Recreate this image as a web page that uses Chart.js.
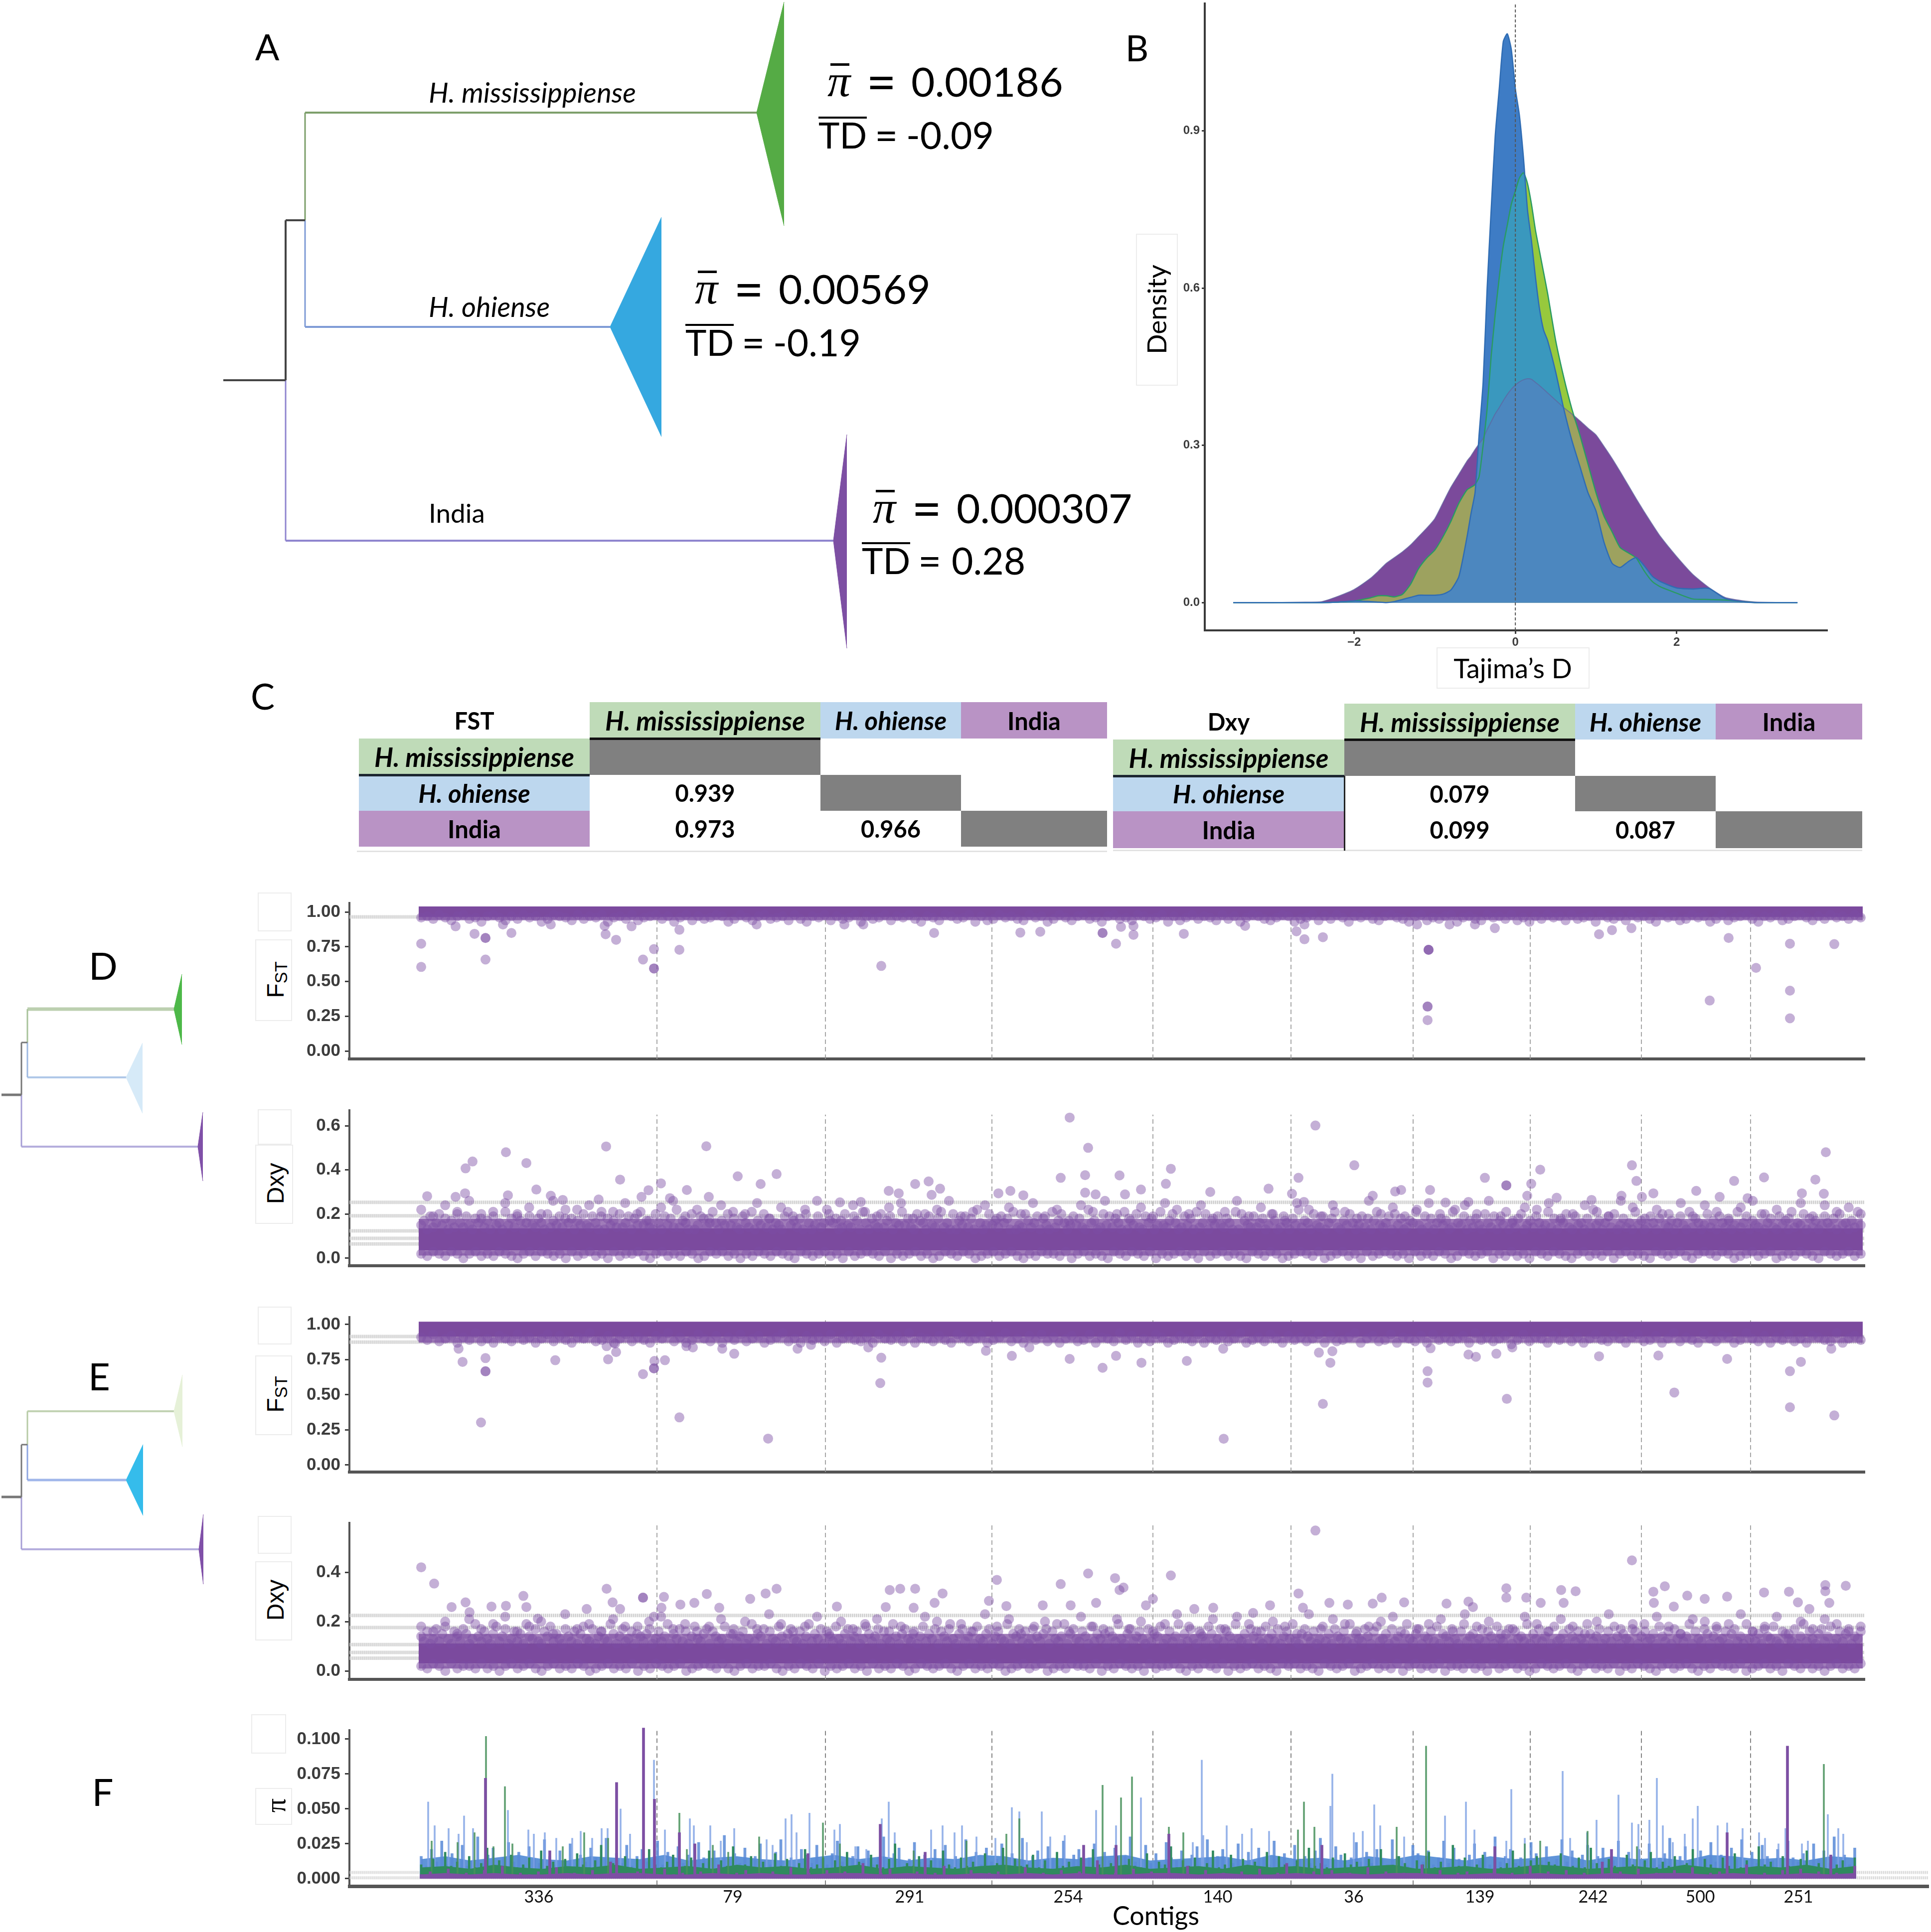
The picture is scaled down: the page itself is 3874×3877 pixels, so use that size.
<!DOCTYPE html>
<html><head><meta charset="utf-8">
<script src="https://cdn.jsdelivr.net/npm/chart.js@4/dist/chart.umd.min.js"></script>
<style>
html,body{margin:0;padding:0;background:#fff}
#page{position:relative;width:3874px;height:3877px;overflow:hidden;background:#fff}
canvas{position:absolute;display:block}
.t{position:absolute;white-space:nowrap;color:#000;font-family:Lato,sans-serif;line-height:1;z-index:5}
.box{position:absolute;background:#fff;border:2px solid #ececec;box-sizing:border-box;z-index:5}
.x{position:absolute;z-index:5}
.c{position:absolute;display:flex;align-items:center;justify-content:center;font-family:Lato,sans-serif;font-weight:700;font-size:47px;color:#000;box-sizing:border-box;z-index:5}
</style></head><body><div id="page"></div>
<script>
/* ---------- Tree schematics (tree layout units) ---------- */
const treeBranches=[[448,763,573,763],[573,442,573,763],[573,442,612,442],[612,226,612,442],[612,226,1521,226],[612,442,612,656],[612,656,1224,656],[573,763,573,1085],[573,1085,1672,1085],
[3,2197,43,2197],[43,2092,43,2197],[43,2092,55,2092],[55,2025,55,2092],[55,2025,349,2025],[55,2092,55,2162],[55,2162,253,2162],[43,2197,43,2301],[43,2301,397,2301],
[3,3004,43,3004],[43,2899,43,3004],[43,2899,55,2899],[55,2832,55,2899],[55,2832,349,2832],[55,2899,55,2970],[55,2970,253,2970],[43,3004,43,3109],[43,3109,399,3109]];
const branchColors=['#444','#444','#444','#7d9f6b','#7d9f6b','#7f9bd6','#7f9bd6','#8f85cf','#8f85cf',
'#777','#777','#777','#a8c29a','#bcd0b0','#9db8e0','#b0c8e8','#a79fd6','#b5aedd',
'#777','#777','#777','#b7cba6','#c2d3b4','#8ea6e0','#a0b6ea','#a79fd6','#b5aedd'];
const branchWidths=[4,4,4,3,4,3,4,3,4,5,3,3,3,7,3,4,3,4,5,3,3,3,4,3,5,3,4];
const clades=[[1518,226,1573,4,453],[1224,656,1327,436,876],[1672,1085,1699,872,1301],
[349,2025,365,1955,2096],[253,2162,286,2093,2234],[397,2301,407,2232,2370],
[349,2832,366,2759,2903],[253,2970,287,2899,3041],[399,3109,408,3039,3179]];
const cladeFills=['#55ab45','#35a8e0','#7d4fa3','#4db848','#d6eaf8','#8050a8','#e6f1d8','#35bceb','#8050a8'];

/* ---------- Panel B: density of Tajima's D ---------- */
const tajimaX=[-3.5,-3,-2.6,-2.4,-2.2,-2,-1.8,-1.7,-1.6,-1.5,-1.4,-1.3,-1.2,-1.1,-1,-.9,-.8,-.7,-.6,-.55,-.5,-.45,-.4,-.35,-.3,-.25,-.2,-.15,-.1,-.05,0,.05,.1,.15,.2,.25,.3,.35,.4,.5,.6,.7,.8,.9,1,1.1,1.2,1.3,1.4,1.5,1.6,1.7,1.8,2,2.2,2.4,2.6,2.8,3,3.5];
const densOhiense=[0,0,0,0,.001,.003,.002,.001,0,.002,.006,.01,.014,.014,.014,.016,.024,.05,.125,.17,.21,.32,.42,.6,.75,.89,.98,1.07,1.085,1.055,.98,.93,.85,.75,.69,.62,.56,.52,.5,.44,.37,.31,.26,.21,.175,.115,.075,.067,.078,.086,.07,.05,.04,.028,.026,.027,.008,.002,0,0];
const densMiss=[0,0,0,0,.001,.003,.009,.013,.013,.011,.016,.035,.065,.085,.1,.125,.155,.19,.215,.22,.225,.24,.3,.37,.47,.55,.62,.68,.72,.76,.785,.81,.82,.8,.76,.71,.67,.63,.59,.5,.43,.37,.32,.265,.21,.165,.135,.105,.095,.085,.06,.04,.03,.018,.007,.006,.005,.002,0,0];
const densIndia=[0,0,.001,.002,.012,.025,.046,.06,.075,.086,.097,.11,.126,.142,.16,.19,.22,.245,.27,.28,.292,.303,.313,.33,.345,.36,.372,.385,.397,.407,.415,.421,.425,.427,.426,.42,.414,.407,.4,.386,.372,.36,.347,.333,.32,.298,.275,.25,.224,.198,.173,.149,.126,.088,.054,.029,.01,.004,.001,0];

/* ---------- Panel C tables ---------- */
const popNames=['H. mississippiense','H. ohiense','India'];
const fstTable=[[null,null,null],['0.939',null,null],['0.973','0.966',null]];
const dxyTable=[[null,null,null],['0.079',null,null],['0.099','0.087',null]];

/* ---------- Contigs ---------- */
const contigBounds=[617,955,1289,1612,1889,2134,2369,2592,2811];
const contigLabelPos=[380,769,1124,1442,1742,2015,2268,2495,2710,2907];
const contigLabels=['336','79','291','254','140','36','139','242','500','251'];

/* ---------- Panel D FST ---------- */
const fstDOutX=[144,144,213,251,273,273,273,308,325,512,514,535,589,611,611,611,662,662,566,404,817,993,1031,1173,1067,1346,1386,1511,1511,1538,1548,1573,1573,1674,1797,1900,1916,1953,1916,2165,2165,2165,2163,2163,2163,2142,2207,2258,2298,2507,2533,2572,2767,2822,2729,2890,2890,2890,2979];
const fstDOutY=[.772,.605,.897,.843,.813,.813,.658,.91,.849,.9,.84,.8,.658,.733,.594,.594,.872,.728,.897,.91,.91,.91,.91,.849,.612,.852,.858,.849,.849,.772,.893,.9,.836,.843,.9,.861,.804,.819,.91,.728,.728,.728,.32,.32,.222,.91,.91,.91,.884,.84,.87,.884,.813,.598,.363,.772,.434,.235,.769];
const fstDEdge=[96,97,95,98,96,94,97,98,95,96,93,97,98,96,94,97,95,98,96,97,93,95,98,97,96,94,98,95,97,96,98,93,96,97,95,98,94,96,97,98,
95,97,93,96,98,94,97,95,96,98,97,93,95,98,96,94,97,98,95,96,97,94,98,95,93,97,96,98,94,97,95,96,98,93,97,95,96,98,94,97,
96,98,95,93,97,96,94,98,97,95,96,98,93,97,94,95,98,96,97,95,94,98,96,97,93,95,98,96,94,97,98,95,96,93,97,98,95,96,94,98,
97,95,96,98,93,97,94,96,98,95,97,96,94,98,95,97,93,96,98,97,95,94,96,98,97,93,95,96,98,94,97,95,98,96,93,97,96,98,95,94,
97,98,96,95,93,97,98,94,96,95,97,98,93,96,97,95,94,98,96,97,95,98,94,96,93,97,95,98,96,97,94,98,95,96,97,93,98,96,95,97,
94,98,96,97,95,93,98,96,97,94,95,98,96,97,93,95,98,94,96,97,98,95,93,97,96,98,94,95,97,98,96,94,97,95,98,96,97,95,98,96];
const fstDBand=[1.04,.965,.94];
const fstDGuide=[.965];

/* ---------- Panel D Dxy ---------- */
const dxyDOutX=[233,247,314,355,515,543,625,716,779,375,600,677,232,156,318,213,404,428,500,586,643,721,857,825,1082,1102,1135,1162,1185,1168,984,1026,1302,1326,1352,1445,1482,1476,1427,1545,1476,1497,1556,1588,1648,1638,1727,1844,1891,1915,1938,1904,2016,2053,2098,2110,2168,2199,2245,2278,2321,2321,2389,2371,2363,2422,2492,2573,2582,2552,2616,2593,2702,2778,2838,2749,2941,2962,2958,2914,2805];
const dxyDOutY=[.407,.438,.48,.431,.506,.356,.339,.507,.371,.311,.308,.309,.294,.281,.285,.278,.283,.264,.266,.278,.272,.278,.381,.336,.305,.294,.336,.348,.315,.287,.253,.255,.294,.305,.285,.637,.5,.376,.364,.375,.297,.289,.289,.311,.405,.337,.3,.315,.292,.255,.601,.364,.421,.283,.302,.309,.309,.252,.255,.364,.33,.33,.401,.337,.283,.274,.264,.421,.35,.283,.294,.278,.305,.35,.366,.278,.356,.48,.292,.294,.272];
const dxyDMid=[15,17,13,19,14,16,20,15,18,13,17,14,21,16,14,19,15,13,18,16,20,14,17,13,19,15,16,13,21,15,18,14,20,17,13,16,19,15,14,18,
16,13,20,14,17,15,19,14,22,16,18,13,17,15,20,15,14,19,16,13,21,13,18,15,17,14,20,14,16,19,13,18,15,21,15,17,14,13,20,16,
13,19,15,18,14,22,14,17,16,13,20,13,15,19,18,14,16,21,16,13,17,15,20,15,18,14,13,19,16,14,21,13,17,15,20,14,18,13,16,15,
13,19,21,15,17,14,18,13,20,16,13,15,19,14,16,22,17,16,18,13,14,20,15,14,19,17,13,21,16,13,18,15,14,20,14,17,19,13,16,15,
21,15,18,14,13,20,17,16,13,19,15,14,18,21,14,16,13,20,13,17,15,19,14,18,13,22,16,13,15,20,15,17,14,19,16,18,13,21,13,15,
14,20,17,14,16,19,13,18,15,13,21,14,17,20,16,13,15,19,15,18,14,13,22,16,17,13,14,20,15,19,14,18,16,13,21,13,17,15,20,14,
13,19,16,18,13,15,21,15,14,17,20,16,13,14,19,15,18,13,21,14,16,20,13,17,15,19,15,14,18,16,13,21,13,20,17,15,14,19,14,16,
18,13,15,20,17,13,14,19,16,13,18,15,22,14,17,16,13,20,15,14,19,13,16,18,21,14,13,17,15,20,16,13,15,19,14,18,13,17,21,15,
14,16,19,13,20,15,18,13,14,17,16,21,15,13,19,14,18,13,16,20,15,17,13,14,22,16,15,19,13,17,14,18,15,13,20,16,14,19,13,17,
15,21,13,16,14,18,20,13,15,17,14,19,16,13,15,21,14,18,13,17,16,20,14,13,19,15,16,13,18,14,22,15,17,13,16,19,14,20,13,15,
18,14,16,13,21,15,17,13,14,19,16,13,18,20,15,14,17,13,16,19,15,13,21,14,18,16,13,15,20,14,17,13,19,16,14,18,13,15,21,14,
16,19,13,17,15,14,20,13,16,18,14,13,19,15,17,13,21,14,16,15,20,13,18,14,17,13,15,19,16,14,18,13,20,15,16,13,17,14,21,15];
const dxyDHigh=[22,19,24,20,26,18,21,25,19,23,20,26,18,22,24,19,21,25,20,17,23,26,19,22,18,24,21,20,25,18,23,19,22,26,20,17,24,21,19,23,25,18,20,22,26,19,21,24,18,23,20,25,19,22,17,24,21,26,20,18,23,19,25,22,20,24,18,21,26,19,23,20,17,25,22,19,24,21,18,26,20,23,19,22,25,18,21,24,20,26,19,17,23,22,25,18,20,24,21,19,26,23,18,22,20,25,19,24,21,17,23,26,20,22,18,25,19,24,21,23,20];
const dxyDLow=[2,1,3,2,1,3,2,0,2,3,1,2,1,3,2,1,0,2,3,1,3,2,1,2,0,3,1,2,3,1,2,0,3,1,2,2,3,1,0,2,
3,1,2,1,3,2,0,1,3,2,3,1,2,0,2,1,3,2,1,3,2,1,0,3,2,1,2,3,1,2,0,3,1,2,3,2,1,3,0,2,
1,2,3,1,2,0,1,3,2,1,3,2,0,1,2,3,1,2,3,1,0,2,1,3,2,2,1,3,0,2,3,1,2,1,0,3,2,1,3,2,
1,3,0,2,1,2,3,1,2,0,3,1,2,3,1,2,1,0,3,2,1,3,2,0,1,2,3,2,1,3,0,1,2,3,1,2,0,3,1,2,
3,2,1,2,0,3,1,2,1,3,2,0,1,3,2,1,2,3,0,2,1,3,1,2,0,3,2,1,3,2,1,0,2,3,1,2,1,3,0,2,
3,1,2,1,0,3,2,1,2,3,1,0,2,3,2,1,3,2,0,1,2,3,1,2,3,0,1,2,1,3,2,1,0,3,2,1,2,3,1,2];
const dxyDBand=[.135,.035,.178,.012];
const dxyDGuide=[.253,.192,.124,.09,.065];

/* ---------- Panel E FST ---------- */
const fstEOutX=[219,227,273,273,273,264,413,519,535,533,516,589,611,611,612,633,662,676,689,748,772,840,899,926,1041,1067,1065,1277,1329,1364,1445,1511,1538,1589,1680,1754,1753,1945,1972,1968,1953,2163,2163,2169,2245,2260,2301,2333,2322,2507,2626,2658,2764,2890,2912,2890,2979,2973];
const fstEOutY=[.828,.734,.761,.667,.667,.303,.746,.752,.804,.864,.846,.647,.688,.688,.741,.746,.339,.846,.837,.828,.792,.188,.828,.855,.837,.764,.583,.813,.777,.837,.755,.692,.777,.728,.741,.187,.828,.8,.81,.728,.435,.668,.587,.831,.786,.77,.792,.837,.471,.774,.779,.516,.755,.668,.734,.411,.353,.828];
const fstEEdge=[91,89,93,88,90,92,87,91,89,94,88,90,87,92,90,88,93,89,91,87,90,93,88,92,89,87,91,90,94,88,89,92,87,90,93,88,91,89,87,92,
90,94,88,91,87,89,93,90,88,92,87,91,89,93,88,90,92,87,89,91,94,88,90,87,92,89,91,88,93,87,90,92,89,88,91,87,93,90,89,92,
88,94,87,91,90,88,92,89,87,93,91,88,90,92,87,89,91,94,88,90,87,92,89,93,88,91,87,90,92,88,89,93,87,91,90,88,94,89,92,87,
90,88,93,91,87,89,92,90,88,93,87,91,89,92,88,90,94,87,89,91,88,93,90,87,92,89,91,88,90,93,87,92,88,89,91,94,87,90,92,88,
89,93,87,91,90,88,92,87,93,89,91,88,90,92,87,94,89,91,88,90,92,86,89,93,88,91,90,87,92,89,94,88,91,87,90,93,89,88,92,90,
87,91,93,88,89,92,87,90,94,88,91,89,87,93,90,88,92,91,87,89,94,90,88,92,87,91,89,93,88,90,87,92,91,89,88,94,87,90,92,89];
const fstEBand=[1.02,.915,.87];
const fstEGuide=[.915,.875];

/* ---------- Panel E Dxy ---------- */
const dxyEOutX=[144,170,205,233,241,285,314,349,355,516,528,543,589,589,631,626,664,692,717,742,476,378,611,804,835,857,978,1084,1105,1135,1190,1174,1076,1132,1283,1299,1318,1391,1427,1482,1536,1553,1545,1498,1447,1648,1612,1598,1695,1733,1847,1813,1904,1913,1938,1966,2003,2053,2071,2116,2201,2245,2254,2321,2321,2361,2390,2431,2460,2436,2573,2616,2639,2617,2684,2719,2764,2657,2838,2888,2906,2961,2961,3002,2969,2929];
const dxyEOutY=[.42,.354,.259,.278,.238,.261,.264,.304,.259,.333,.278,.251,.297,.297,.3,.256,.269,.276,.312,.256,.251,.212,.22,.292,.314,.333,.261,.328,.333,.333,.314,.276,.259,.256,.284,.369,.263,.266,.352,.395,.376,.338,.328,.276,.266,.387,.292,.266,.251,.256,.266,.235,.314,.256,.569,.276,.269,.273,.297,.278,.273,.281,.259,.335,.297,.297,.276,.328,.323,.276,.448,.321,.343,.276,.305,.292,.301,.261,.318,.321,.278,.348,.323,.345,.276,.251];
const dxyEMid=[14,12,16,11,13,17,12,15,18,13,11,16,14,12,17,15,11,13,19,14,12,16,13,11,15,18,12,14,17,11,13,16,12,15,11,19,14,13,17,12,
11,16,14,18,12,15,13,11,17,14,12,16,11,15,18,13,12,17,11,14,16,13,12,19,15,11,14,17,12,13,16,11,18,14,12,15,17,11,13,16,
12,14,19,11,15,13,17,12,16,11,14,18,13,12,15,17,11,16,14,12,13,18,11,15,17,12,14,16,11,13,19,12,15,14,17,11,16,13,12,18,
14,11,15,17,13,12,16,11,14,19,12,15,13,17,11,16,14,12,18,13,11,15,17,12,14,16,11,13,18,15,12,14,17,11,16,13,12,19,14,11,
15,17,13,12,16,11,14,18,12,15,13,17,11,16,14,12,19,13,11,15,17,12,14,16,11,18,13,12,15,17,11,14,16,13,12,19,11,15,14,17,
12,16,11,13,18,14,12,15,17,11,16,13,12,14,19,11,15,17,13,12,16,14,11,18,12,15,13,17,11,16,14,12,19,13,11,15,17,12,14,16,
13,11,17,12,15,14,18,11,13,16,12,14,19,11,15,12,17,13,11,16,14,12,18,15,11,13,17,12,16,14,11,19,13,12,15,11,17,14,16,12,
11,18,13,15,12,17,11,14,16,13,19,12,11,15,17,14,12,16,11,13,18,12,15,11,17,14,13,16,12,19,11,15,13,12,17,14,11,16,18,12,
13,15,11,17,12,14,16,11,19,13,12,15,17,11,14,13,16,12,18,11,15,14,12,17,13,11,16,19,12,14,15,11,13,17,12,16,14,11,18,13,
12,15,17,11,16,13,14,12,19,11,15,13,17,12,14,16,11,18,12,13,15,11,17,14,12,16,13,11,19,15,12,14,17,11,13,16,12,18,14,11,
15,13,12,17,16,11,14,19,12,13,15,11,18,14,12,16,11,17,13,15,12,14,19,11,16,13,12,17,15,11,14,18,12,13,16,11,15,17,12,14,
11,19,13,16,12,15,11,17,14,13,18,12,11,16,15,13,12,17,11,14,19,12,16,13,11,15,17,12,14,18,11,13,16,12,15,17,11,14,13,16];
const dxyEHigh=[18,16,20,15,21,17,19,22,16,18,20,15,23,17,19,16,21,18,15,20,22,17,19,16,18,21,15,20,17,23,19,16,18,22,15,20,17,19,21,16,18,15,22,20,17,19,16,23,18,21,15,17,20,19,16,22,18,15,21,17,20,16,19,23,18,15,21,17,22,19,16,20,18,15,23,17,21,19,16,18,20,22,15,17,19,21,16,23,18,20,15,17,22,19,16,21,18,15,20,23,17,19,16,22,18,15,21,20,17,19,23,16,18,22,15,20,17,21,19,16,18];
const dxyELow=[2,1,3,2,0,3,1,2,2,1,3,1,2,0,2,3,1,2,3,1,0,2,3,1,2,1,3,2,0,1,2,3,1,2,1,3,0,2,1,3,
2,1,2,3,0,1,2,3,2,1,3,1,0,2,3,1,2,2,3,1,0,2,1,3,2,1,3,0,2,1,2,3,1,2,0,3,1,2,1,3,
2,0,1,3,2,1,2,3,1,0,2,3,1,2,1,3,2,0,1,2,3,1,2,3,0,1,2,1,3,2,2,1,3,0,2,1,3,2,1,2,
0,3,1,2,2,3,1,0,2,1,3,2,1,3,0,2,1,2,3,1,2,1,0,3,2,3,1,2,1,0,3,2,1,2,3,0,1,2,3,1,
2,1,3,0,2,3,1,2,1,3,0,2,2,1,3,1,2,0,3,1,2,3,1,2,0,1,3,2,1,2,3,1,0,2,3,1,2,1,3,0,
2,1,3,2,1,0,2,3,1,2,3,1,0,2,1,3,2,2,1,3,0,1,2,3,1,2,0,3,2,1,3,1,2,0,2,3,1,2,1,3];
const dxyEBand=[.112,.03,.15,.01];
const dxyEGuide=[.225,.176,.107,.075,.052];

/* ---------- Panel F nucleotide diversity (thousandths) ---------- */
const piBlueSpikeX=[158,171,199,219,230,248,318,359,370,392,415,447,464,487,506,518,544,563,611,633,683,691,724,745,772,837,849,875,887,897,923,973,984,1015,1037,1068,1082,1094,1167,1190,1214,1229,1258,1296,1329,1344,1359,1389,1406,1435,1498,1538,1588,1692,1710,1713,1760,1791,1810,1845,1968,1972,2015,2033,2056,2068,2116,2198,2240,2257,2298,2321,2331,2358,2434,2449,2483,2502,2546,2573,2586,2608,2623,2635,2655,2679,2695,2705,2745,2764,2795,2828,2840,2867,2881,2914,2926,2966,2987,2997];
const piBlueSpikeY=[55,38,36,32,45,36,49,35,32,33,29,29,34,29,36,36,50,32,85,35,43,38,38,27,36,28,24,43,46,33,47,35,39,23,21,43,55,33,35,38,33,38,30,29,51,48,26,48,30,31,49,38,58,26,85,31,38,32,36,34,52,75,33,34,53,38,30,45,55,35,26,27,64,29,77,29,33,42,60,40,39,42,72,38,26,32,43,52,38,40,36,33,29,25,36,25,27,46,36,32];
const piGreenSpikeX=[165,217,251,274,289,312,327,428,471,519,662,677,729,760,822,950,984,1132,1238,1318,1344,1511,1548,1570,1644,1673,1903,1915,1936,2101,2160,2358,2389,2484,2583,2958];
const piGreenSpikeY=[27,26,33,102,23,66,25,23,33,29,47,21,24,19,30,40,25,20,27,32,43,67,58,73,37,33,35,55,37,37,95,25,27,34,23,82];
const piPurpleSpikeX=[273,402,536,590,612,662,693,920,1065,1155,1473,1538,1644,1951,2298,2532,2764,2885,2972];
const piPurpleSpikeY=[72,20,69,108,57,33,25,18,39,19,24,24,32,24,23,21,33,95,17];
const piBlueBase=[14,16,13,15,17,14,13,16,15,14,17,13,15,16,14,13,15,17,14,16,13,15,14,17,16,13,15,14,16,17,13,14,15,16,13,17,14,15,13,16,14,17,15,13,16,14,15,17,13,16,14,15,13,17,16,14,15,13,16,15];
const piGreenBase=[8,9,7,10,8,7,9,8,10,7,8,9,7,10,8,9,7,8,10,7,9,8,7,9,10,8,7,9,8,10,7,8,9,7,10,8,9,7,8,9,10,7,8,9,7,8,10,9,7,8,9,7,10,8,7,9,8,10,7,9];
const piPurpleBase=[3,4,3,4,3,3,4,3,4,4,3,3,4,3,4,3,3,4,4,3,4,3,3,4,3,4,3,4,3,3,4,4,3,4,3,3,4,3,4,3,4,4,3,3,4,3,4,3,3,4,3,4,4,3,4,3,3,4,3,4];
const piBlueFine=[16,9,21,12,27,10,18,14,24,9,13,30,11,17,22,10,15,26,12,19,9,23,14,11,28,16,10,20,13,25,9,17,12,22,15,10,29,13,18,11,
24,9,16,21,12,14,27,10,19,13,23,11,17,9,26,15,12,20,10,31,14,18,11,22,9,16,25,13,10,19,28,12,15,9,21,17,11,24,14,10,
18,27,12,9,16,23,13,20,10,15,30,11,18,22,9,14,26,12,17,10,21,13,24,9,16,11,28,15,19,10,22,12,14,25,9,18,13,29,11,16,
20,10,23,14,9,27,12,17,21,11,15,25,10,19,13,22,9,16,30,12,14,24,11,18,10,26,15,13,20,9,17,23,12,28,10,16,21,14,11,25,
9,19,13,22,15,10,27,12,18,9,24,14,16,11,20,29,10,13,23,17,9,15,26,12,19,11,21,14,10,28,16,13,9,24,18,12,20,10,15,27,
11,22,14,9,17,25,13,19,10,30,12,16,21,11,15,9,26,18,13,23,10,14,28,12,20,9,17,24,11,16,22,10,13,27,15,19,9,21,12,25,
14,10,18,29,11,16,23,13,9,20,15,26,12,17,10,22,14,28,9,19,11,24,16,13,21,10,27,15,12,18,9,25,14,20,11,30,13,17,10,22];
const piGreenFine=[10,7,14,8,19,9,12,7,16,8,11,22,7,13,9,17,8,10,15,7,20,9,12,8,14,7,18,10,8,13,24,7,11,9,16,8,14,7,21,10,
8,12,17,7,9,15,8,11,20,7,13,9,23,8,10,16,7,12,8,18,9,14,7,11,21,8,10,15,7,13,9,19,8,12,7,17,10,8,14,25,
7,11,9,16,8,13,7,20,10,8,15,9,12,7,18,8,11,22,7,14,9,10,17,8,13,7,19,9,12,8,15,7,21,10,8,11,16,7,14,9,
8,18,7,12,10,23,8,13,9,15,7,11,20,8,10,17,7,14,9,12,8,19,7,16,10,8,13,7,22,9,11,8,15,7,18,10,12,8,14,7,
21,9,8,16,11,7,13,10,19,8,12,7,24,9,15,8,10,17,7,14,8,11,20,9,7,13,16,8,12,10,18,7,9,15,8,22,11,7,14,9,
8,17,10,7,13,19,8,12,9,16,7,11,21,8,14,10,7,15,9,18,8,13,7,23,10,12,8,16,9,7,14,20,8,11,7,17,10,13,8,15];
const piPurpleFine=[3,5,2,7,3,4,2,6,3,9,2,4,3,5,2,8,3,4,2,6,3,12,2,4,5,3,2,7,3,4,2,5,3,10,2,4,6,3,2,5,
3,8,2,4,3,6,2,5,3,11,2,4,7,3,2,5,3,4,9,2,3,6,2,4,5,3,2,8,3,4,2,6,3,5,2,13,3,4,2,7,
3,5,2,4,3,9,2,6,3,4,2,5,3,7,2,4,11,3,2,5,3,6,2,4,3,8,2,5,3,4,2,10,3,6,2,4,5,3,2,7,
3,4,2,9,3,5,2,6,3,4,2,12,3,5,2,7,3,4,2,6,3,8,2,4,5,3,2,10,3,4,2,6,3,7,2,5,3,4,2,9];
const piGuide=[.0044,.0006];

/* ---------- Colours & helpers ---------- */
const page=document.getElementById('page');
const DOT='rgba(125,78,165,.45)',BAND='#7b4a9e',HALO='rgba(123,74,158,.72)',AXIS='#555',TICK='#3c3c3c';
const el=(cls,css,html)=>{const d=document.createElement('div');d.className=cls;d.style.cssText=css;if(html!=null)d.innerHTML=html;page.appendChild(d);return d};
const box=(x0,y0,x1,y1)=>el('box',`left:${x0}px;top:${y0}px;width:${x1-x0}px;height:${y1-y0}px`);
const ctxt=(s,cx,cy,size,extra='')=>el('t',`left:${cx}px;top:${cy}px;font-size:${size}px;transform:translate(-50%,-50%);${extra}`,s);
const ltxt=(s,x,cy,size,extra='')=>el('t',`left:${x}px;top:${cy}px;font-size:${size}px;transform:translateY(-50%);${extra}`,s);
const rot=(s,cx,cy,size,extra='')=>el('t',`left:${cx}px;top:${cy}px;font-size:${size}px;transform:translate(-50%,-50%) rotate(-90deg);${extra}`,s);
const series=(arr,div,x0=144,x1=3032)=>arr.map((v,i)=>({x:x0+i*(x1-x0)/(arr.length-1),y:v/div}));
const zip=(xs,ys,div=1)=>xs.map((x,i)=>({x,y:ys[i]/div}));
const mk=(l,t,w,h,z=1)=>{const c=document.createElement('canvas');c.width=w;c.height=h;c.style.cssText=`left:${l}px;top:${t}px;width:${w}px;height:${h}px;z-index:${z}`;page.appendChild(c);return c.getContext('2d')};
const baseOpts={responsive:false,animation:false,devicePixelRatio:1,events:[],plugins:{legend:{display:false},tooltip:{enabled:false},title:{display:false}},elements:{line:{tension:0}}};

function panel(c){
  const W=c.W??220,H=c.H??44,pT=c.pT??30,pR=c.pR??14;
  const ctx=mk(c.l-W,c.t-pT,W+(c.r-c.l)+pR,pT+(c.b-c.t)+H,3);
  return new Chart(ctx,{type:'line',data:{datasets:c.datasets},options:{...baseOpts,
    layout:{padding:{top:pT,right:pR,left:0,bottom:0}},
    scales:{
      x:{type:'linear',offset:false,min:c.xMin,max:c.xMax,afterFit:s=>{s.height=H},
        afterBuildTicks:s=>{s.ticks=(c.xTicks||[]).map(v=>({value:v}))},
        border:{color:c.axis||AXIS,width:c.xBW??6},
        grid:{display:!!c.xTickLen,drawOnChartArea:false,tickLength:c.xTickLen||0,tickColor:TICK,tickWidth:3},
        ticks:{display:!!c.xTicks,autoSkip:false,maxRotation:0,minRotation:0,padding:c.xPad??4,color:c.xColor||TICK,font:c.xFont||{family:'Liberation Sans',size:28},callback:c.xFmt}},
      y:{type:'linear',min:c.yMin,max:c.yMax,afterFit:s=>{s.width=W},
        afterBuildTicks:s=>{s.ticks=c.yTicks.map(v=>({value:v}))},
        border:{color:c.axis||AXIS,width:c.yBW??4},
        grid:{drawOnChartArea:false,tickLength:c.yTickLen??9,tickColor:TICK,tickWidth:3},
        ticks:{autoSkip:false,padding:c.yPad??9,color:TICK,font:c.yFont||{family:'Liberation Sans',size:35,weight:'bold'},callback:c.yFmt}}
    }}});
}
const vlines=(lo,hi,color='rgba(150,150,150,.85)')=>({data:contigBounds.flatMap(b=>[{x:b,y:lo},{x:b,y:hi},{x:NaN,y:NaN}]),borderColor:color,borderWidth:2,borderDash:[9,6],pointRadius:0,spanGaps:false,clip:false});
const hguides=(vals,xMax,w=7,col='rgba(200,200,200,.8)')=>vals.map(v=>({data:[{x:0,y:v},{x:xMax,y:v}],borderColor:col,borderWidth:w,borderDash:[3,1],pointRadius:0,clip:false}));
const dots=d=>({data:d,showLine:false,pointRadius:10,pointBackgroundColor:DOT,pointBorderWidth:0,borderWidth:0,clip:false});
const bandBetween=(hi,lo,col=BAND)=>({data:[{x:139,y:hi},{x:3036,y:hi}],fill:{target:{value:lo}},backgroundColor:col,borderWidth:0,pointRadius:0,clip:false});

/* ---------- Trees (A, D, E) ---------- */
{
  const ctx=mk(0,0,3874,3877,1);
  const ds=[];
  clades.forEach((c,i)=>{
    const [ax,ay,tx,y0,y1]=c;
    ds.push({data:[{x:ax,y:ay},{x:tx,y:y0}],fill:'+1',backgroundColor:cladeFills[i],borderColor:cladeFills[i],borderWidth:1,pointRadius:0});
    ds.push({data:[{x:ax,y:ay},{x:tx,y:y1}],fill:false,borderColor:cladeFills[i],borderWidth:1,pointRadius:0});
  });
  treeBranches.forEach((b,i)=>ds.push({data:[{x:b[0],y:b[1]},{x:b[2],y:b[3]}],borderColor:branchColors[i],borderWidth:branchWidths[i],pointRadius:0,fill:false}));
  new Chart(ctx,{type:'line',data:{datasets:ds},options:{...baseOpts,layout:{padding:0},
    scales:{x:{type:'linear',display:false,min:0,max:3874,offset:false},y:{type:'linear',display:false,reverse:true,min:0,max:3877}}}});
}

/* ---------- Panel B ---------- */
{
  const pts=a=>tajimaX.map((x,i)=>({x,y:a[i]}));
  const mn=(a,b)=>a.map((v,i)=>Math.min(v,b[i]));
  const fillDs=(a,col)=>({data:pts(a),fill:'origin',backgroundColor:col,borderWidth:0,pointRadius:0,tension:.2});
  const line=(a,col,w=3)=>({data:pts(a),fill:false,borderColor:col,borderWidth:w,pointRadius:0,tension:.2,clip:false});
  panel({l:2417,r:3666,t:7,b:1265,W:120,H:60,pT:18,pR:10,xMin:-3.853,xMax:3.87,yMin:-.053,yMax:1.1425,axis:'#3a3a3a',xBW:4,yBW:4,
    xTicks:[-2,0,2],xTickLen:7,xFmt:v=>v<0?'\u2212'+Math.abs(v):String(v),xFont:{family:'Liberation Sans',size:24,weight:'bold'},xPad:3,
    yTicks:[0,.3,.6,.9],yFmt:v=>v.toFixed(1),yFont:{family:'Liberation Sans',size:24,weight:'bold'},yTickLen:6,yPad:4,
    datasets:[
      {data:[{x:0,y:-.053},{x:0,y:1.1425}],borderColor:'#555',borderWidth:2,borderDash:[6,4],pointRadius:0},
      line(densOhiense,'#2f6cb3',2.5),line(densMiss,'#2a9a63',2.5),line(densIndia,'rgba(95,100,160,.7)',2),
      fillDs(mn(densOhiense,densIndia),'#4c87bf'),
      fillDs(mn(densOhiense,densMiss),'#3a98be'),
      fillDs(densOhiense,'#3e7cc5'),
      fillDs(mn(densMiss,densIndia),'#9da25f'),
      fillDs(densIndia,'#7b4a9b'),
      fillDs(densMiss,'#97c93d')
    ]});
}

/* ---------- Panels D / E ---------- */
const span=3040;
panel({l:701,r:3741,t:1812,b:2125,xMin:0,xMax:span,yMin:-.057,yMax:1.065,yTicks:[0,.25,.5,.75,1],yFmt:v=>v.toFixed(2),
  datasets:[dots(zip(fstDOutX,fstDOutY)),dots(series(fstDEdge,100)),bandBetween(fstDBand[0],fstDBand[1]),bandBetween(fstDBand[1],fstDBand[2],HALO),
    ...hguides(fstDGuide,span),vlines(-.057,1)]});
panel({l:701,r:3741,t:2228,b:2540,xMin:0,xMax:span,yMin:-.034,yMax:.67,yTicks:[0,.2,.4,.6],yFmt:v=>v.toFixed(1),
  datasets:[dots(zip(dxyDOutX,dxyDOutY)),dots(series(dxyDHigh,100)),dots(series(dxyDMid,100)),dots(series(dxyDLow,100)),bandBetween(dxyDBand[0],dxyDBand[1]),bandBetween(dxyDBand[2],dxyDBand[0],HALO),bandBetween(dxyDBand[1],dxyDBand[3],HALO),
    ...hguides(dxyDGuide,span),vlines(-.034,.65)]});
panel({l:701,r:3741,t:2643,b:2954,xMin:0,xMax:span,yMin:-.05,yMax:1.053,yTicks:[0,.25,.5,.75,1],yFmt:v=>v.toFixed(2),
  datasets:[dots(zip(fstEOutX,fstEOutY)),dots(series(fstEEdge,100)),bandBetween(fstEBand[0],fstEBand[1]),bandBetween(fstEBand[1],fstEBand[2],HALO),
    ...hguides(fstEGuide,span),vlines(-.05,1.03)]});
panel({l:701,r:3741,t:3056,b:3370,xMin:0,xMax:span,yMin:-.034,yMax:.6,yTicks:[0,.2,.4],yFmt:v=>v.toFixed(1),
  datasets:[dots(zip(dxyEOutX,dxyEOutY)),dots(series(dxyEHigh,100)),dots(series(dxyEMid,100)),dots(series(dxyELow,100)),bandBetween(dxyEBand[0],dxyEBand[1]),bandBetween(dxyEBand[2],dxyEBand[0],HALO),bandBetween(dxyEBand[1],dxyEBand[3],HALO),
    ...hguides(dxyEGuide,span),vlines(-.034,.59)]});

/* ---------- Panel F ---------- */
{
  const X1=3020;
  const spikes=(x,y,col,th)=>({type:'bar',data:zip(x,y,1000),backgroundColor:col,barThickness:th,grouped:false,clip:false,borderWidth:0});
  const fine=(a,col,th)=>({type:'bar',data:series(a,1000,144,X1),backgroundColor:col,barThickness:th,grouped:false,clip:false,borderWidth:0});
  const base=(a,col)=>({data:series(a,1000,144,X1),fill:'origin',backgroundColor:col,borderWidth:0,pointRadius:0});
  panel({l:701,r:3869,t:3472,b:3785,H:54,pR:5,xMin:0,xMax:3168,xBW:7,xTicks:contigLabelPos,xFmt:v=>contigLabels[contigLabelPos.indexOf(v)],xColor:'#111',xFont:{family:'Lato',size:34},xPad:2,
    yMin:-.0054,yMax:.1064,yTicks:[0,.025,.05,.075,.1],yFmt:v=>v.toFixed(3),
    datasets:[
      spikes(piPurpleSpikeX,piPurpleSpikeY,'#7d4fa3',5),
      fine(piPurpleFine,'#7d4fa3',5),
      base(piPurpleBase,'#7d4fa3'),
      spikes(piGreenSpikeX,piGreenSpikeY,'rgba(70,145,90,.85)',3),
      fine(piGreenFine,'#2f8a5e',4),
      base(piGreenBase,'#2f8a5e'),
      spikes(piBlueSpikeX,piBlueSpikeY,'rgba(125,160,228,.8)',3),
      fine(piBlueFine,'rgba(88,138,215,.85)',5),
      base(piBlueBase,'#5f94d8'),
      vlines(-.0045,.108,'rgba(110,110,110,.85)'),
      ...hguides(piGuide,3168,6,'rgba(205,205,205,.65)')
    ]});
}

/* ---------- Panel C tables ---------- */
const colsF=[720,1183,1646,1928,2221],rowsF=[1409,1482,1555,1627,1699];
const colsD=[2233,2697,3160,3442,3736],rowsD=[1412,1484,1557,1628,1702];
const popBg=['#bfdbb8','#bdd7ee','#b993c5'],GREY='#808080',popSize=[53,51,49];
function table(cols,rows,title,tab){
  const cell=(c,r,bg,s,it,fs)=>el('c',`left:${cols[c]}px;top:${rows[r]}px;width:${cols[c+1]-cols[c]}px;height:${rows[r+1]-rows[r]}px;${bg?`background:${bg};`:''}${it?'font-style:italic;':''}${fs?`font-size:${fs}px;`:''}`,s);
  cell(0,0,null,title);
  popNames.forEach((n,i)=>{const it=n!=='India';cell(i+1,0,popBg[i],n,it,popSize[i]);cell(0,i+1,popBg[i],n,it,popSize[i])});
  tab.forEach((row,r)=>row.forEach((v,c)=>{if(c===r)cell(c+1,r+1,GREY,'');else if(v)cell(c+1,r+1,null,v)}));
  el('x',`left:${cols[1]}px;top:${rows[1]-2}px;width:${cols[2]-cols[1]}px;height:5px;background:#111`);
  el('x',`left:${cols[0]}px;top:${rows[2]-2}px;width:${cols[1]-cols[0]}px;height:5px;background:#1c2630`);
}
table(colsF,rowsF,'FST',fstTable);
table(colsD,rowsD,'Dxy',dxyTable);
el('x','left:716px;top:1707px;width:1505px;height:3px;background:#e2e2e2');
el('x','left:2233px;top:1705px;width:1503px;height:3px;background:#e2e2e2');
el('x','left:2696px;top:1557px;width:3px;height:150px;background:#222');

/* ---------- Panel letters ---------- */
ctxt('A',536,93,72);ctxt('B',2281,95,72);ctxt('C',527,1396,72);ctxt('D',207,1937,76);ctxt('E',199,2761,76);ctxt('F',206,3595,76);

/* ---------- Panel A annotations ---------- */
ltxt('H. mississippiense',860,185,56,'font-style:italic');
ltxt('H. ohiense',860,615,56,'font-style:italic');
ltxt('India',860,1028,53);
const PI='<span style="position:relative;display:inline-block;font-family:\'Liberation Serif\';font-style:italic">\u03C0<span style="position:absolute;left:14%;right:4%;top:.12em;height:5px;background:#000"></span></span>';
const TD='<span style="position:relative;display:inline-block">TD<span style="position:absolute;left:0;right:0;top:0;height:4px;background:#000"></span></span>';
function piLine(x,cy,v){ltxt(PI,x,cy-2,92);ltxt('=',x+78,cy,104);ltxt(v,x+168,cy,82)}
function tdLine(x,cy,v,dx){ltxt(TD,x,cy,72);ltxt('=',x+113,cy,80);ltxt(v,x+dx,cy,75)}
piLine(1660,162,'0.00186');tdLine(1642,270,'-0.09',176);
piLine(1394,578,'0.00569');tdLine(1375,686,'-0.19',176);
piLine(1751,1018,'0.000307');tdLine(1729,1124,'0.28',180);

/* ---------- Axis title boxes ---------- */
box(2279,469,2363,774);rot('Density',2319,621,53);
box(2882,1299,3189,1382);ctxt('Tajima\u2019s D',3035,1341,54);
const SANS="font-family:'Liberation Sans';";
const FST='F<sub style="font-size:.72em;vertical-align:-.2em;line-height:0">ST</sub>';
box(517,1791,585,1869);box(512,1885,586,2049);rot(FST,553,1966,48,SANS);
box(517,2226,585,2297);box(512,2297,588,2456);rot('Dxy',553,2375,48,SANS);
box(517,2622,585,2698);box(512,2720,586,2880);rot(FST,553,2798,48,SANS);
box(517,3042,585,3118);box(512,3133,586,3292);rot('Dxy',553,3211,48,SANS);
box(504,3440,574,3519);box(512,3588,586,3662);rot('\u03C0',553,3623,56,"font-family:'Liberation Serif';");
ctxt('Contigs',2319,3843,52);
</script></body></html>
